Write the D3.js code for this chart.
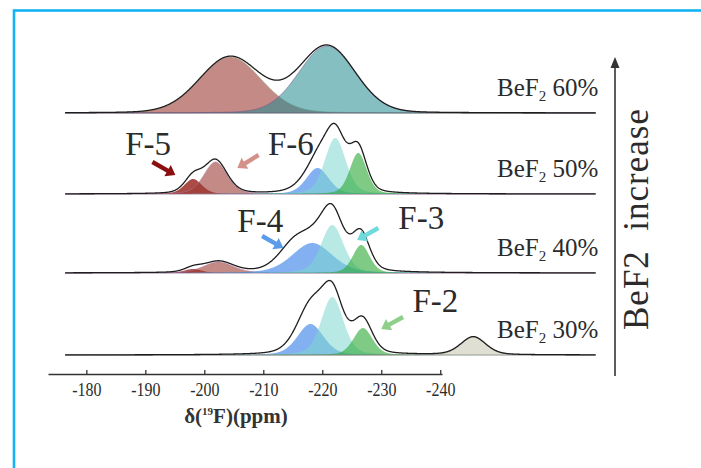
<!DOCTYPE html>
<html>
<head>
<meta charset="utf-8">
<script src="https://cdn.jsdelivr.net/npm/d3@7"></script>
<style>
  body { margin: 0; background: #fff; }
  svg { display: block; font-family: 'Liberation Serif', 'Times New Roman', serif; }
</style>
</head>
<body>
<div id="graf"></div>
<script>
// I. Datos
const ticksPpm = [-180, -190, -200, -210, -220, -230, -240]
const muestras = ['60%', '50%', '40%', '30%']

// componentes de ajuste: [tipo, centro ppm, altura (u.a.), fwhm ppm]
const picos60 = [
  ['rojo', -204.4, 56, 12.3],
  ['verdeazul', -220.8, 67, 11.3]
]
const picos50 = [
  ['F-5', -198.1, 15, 3.5],
  ['F-6', -201.9, 32, 4.6],
  ['F-4', -219.2, 26, 4.5],
  ['F-3', -222.2, 56, 4.2],
  ['F-2', -226.1, 41, 3.4]
]
const picos40 = [
  ['F-5', -198.1, 4, 3.5],
  ['F-6', -202.4, 11, 6.0],
  ['F-4', -218.3, 30, 8.0],
  ['F-3', -221.7, 48, 4.5],
  ['F-2', -226.6, 28, 3.4]
]
const picos30 = [
  ['F-4', -218.0, 31, 5.2],
  ['F-3', -221.7, 58, 4.4],
  ['F-2', -226.9, 27, 3.8],
  ['F-1', -245.6, 18, 5.0]
]
// señal medida que no cubren los componentes: [centro ppm, altura, fwhm ppm]
const resto60 = []
const resto50 = [[-217.0, 5, 5]]
const resto40 = [[-214.9, 15, 6], [-226.3, 9, 4]]
const resto30 = [[-217.8, 15, 6], [-226.5, 7, 4]]
const ganancia = [1.0, 1.04, 1.0, 1.0]
const eta = [0.1, 0.3, 0.3, 0.3]

// anotaciones: [texto, muestra, ppm, intensidad]  y flechas [texto, muestra, ppm1, int1, ppm2, int2]
const etiquetasF = [
  ['F-5', 1, -186.6, 39], ['F-6', 1, -210.8, 39],
  ['F-4', 2, -205.6, 41], ['F-3', 2, -232.9, 44],
  ['F-2', 3, -235.3, 43]
]
const flechasF = [
  ['F-5', 1, -191.2, 32, -195.1, 19],
  ['F-6', 1, -209.2, 39, -205.6, 26],
  ['F-4', 2, -209.8, 37, -213.4, 25],
  ['F-3', 2, -229.5, 45, -225.9, 33],
  ['F-2', 3, -233.7, 38, -230.0, 26]
]

// II. Configuración
const ancho_total = 701, alto_total = 468
const bases = [113, 194, 273, 355]
const estilos = {
  'rojo':      { fill: '#9d3c34', op: 0.6,  stroke: '#8fae7a' },
  'verdeazul': { fill: '#238a90', op: 0.55, stroke: '#7a4f8c' },
  'F-5':       { fill: '#8d0f08', op: 0.75, stroke: 'none' },
  'F-6':       { fill: '#9d3c34', op: 0.6,  stroke: '#b27aa8' },
  'F-4':       { fill: '#2f7be6', op: 0.6,  stroke: 'none' },
  'F-3':       { fill: '#7dd7cf', op: 0.55, stroke: 'none' },
  'F-2':       { fill: '#2aa835', op: 0.6,  stroke: 'none' },
  'F-1':       { fill: '#c9c9b6', op: 0.6,  stroke: '#8a8a80' }
}
const colorFlecha = { 'F-5': '#8b0f0f', 'F-6': '#d4918a', 'F-4': '#5a9bea', 'F-3': '#6fd9dc', 'F-2': '#8ed08a' }

const svg = d3.select('#graf').append('svg')
  .attr('width', ancho_total)
  .attr('height', alto_total)

// marco azul
svg.append('rect')
  .attr('x', 14).attr('y', 10.5)
  .attr('width', 900).attr('height', 700)
  .attr('fill', 'none')
  .attr('stroke', '#14b2f2')
  .attr('stroke-width', 2.6)

const x = d3.scaleLinear()
  .domain([-173.5, -240.3])
  .range([48, 442])

// pseudo-Voigt
function voigt(p, c, h, f, e) {
  const d = (p - c) / f
  return h * ((1 - e) * Math.exp(-4 * Math.LN2 * d * d) + e / (1 + 4 * d * d))
}

const ppms = d3.range(-176.4, -266.35, -0.05)
const todos = [picos60, picos50, picos40, picos30]
const restos = [resto60, resto50, resto40, resto30]

// III. Espectros
todos.forEach((picos, i) => {
  const y = d3.scaleLinear().domain([0, 100]).range([bases[i], bases[i] - 100])
  const g = svg.append('g')

  g.append('path')
    .attr('d', d3.line().x(p => x(p)).y(() => y(0))([ppms[0], ppms[ppms.length - 1]]))
    .attr('stroke', '#b9c6c6')
    .attr('stroke-width', 1.2)

  const area = d3.area()
    .x(d => x(d[0]))
    .y0(y(0))
    .y1(d => y(d[1]))

  picos.forEach(pk => {
    const est = estilos[pk[0]]
    const datos = ppms.map(p => [p, voigt(p, pk[1], pk[2], pk[3], eta[i])])
    g.append('path')
      .attr('d', area(datos))
      .attr('fill', est.fill)
      .attr('fill-opacity', est.op)
      .attr('stroke', est.stroke)
      .attr('stroke-width', 0.8)
      .attr('stroke-opacity', 0.7)
  })

  // envolvente medida
  const env = ppms.map(p => {
    let s = 0
    picos.forEach(pk => { s += voigt(p, pk[1], pk[2], pk[3], eta[i]) })
    s *= ganancia[i]
    restos[i].forEach(r => { s += voigt(p, r[0], r[1], r[2], eta[i]) })
    return [p, s]
  })
  g.append('path')
    .attr('d', d3.line().x(d => x(d[0])).y(d => y(d[1]))(env))
    .attr('fill', 'none')
    .attr('stroke', '#1e1e1e')
    .attr('stroke-width', 1.3)

  // etiqueta BeF2 xx%
  const t = g.append('text')
    .attr('x', 497)
    .attr('y', bases[i] - 17)
    .attr('font-size', 25)
    .attr('fill', '#2b2b2b')
  t.append('tspan').text('BeF')
  t.append('tspan').attr('font-size', 15).attr('dy', 5).text('2')
  t.append('tspan').attr('dy', -5).text('\u00a0' + muestras[i])
})

// IV. Anotaciones F-n
const yMuestra = i => d3.scaleLinear().domain([0, 100]).range([bases[i], bases[i] - 100])

function flecha(x1, y1, x2, y2) {
  const dx = x2 - x1, dy = y2 - y1, L = Math.hypot(dx, dy)
  const ux = dx / L, uy = dy / L, nx = -uy, ny = ux
  const hl = 9, sw = 2.2, hw = 6.5
  const bx = x2 - ux * hl, by = y2 - uy * hl
  return [
    [x1 + nx * sw, y1 + ny * sw], [bx + nx * sw, by + ny * sw], [bx + nx * hw, by + ny * hw],
    [x2, y2],
    [bx - nx * hw, by - ny * hw], [bx - nx * sw, by - ny * sw], [x1 - nx * sw, y1 - ny * sw]
  ]
}

svg.selectAll('.flechaF')
  .data(flechasF)
  .enter().append('polygon')
  .attr('class', 'flechaF')
  .attr('points', d => {
    const y = yMuestra(d[1])
    return flecha(x(d[2]), y(d[3]), x(d[4]), y(d[5])).map(p => p.join(',')).join(' ')
  })
  .attr('fill', d => colorFlecha[d[0]])

svg.selectAll('.etiquetaF')
  .data(etiquetasF)
  .enter().append('text')
  .attr('class', 'etiquetaF')
  .attr('x', d => x(d[2]))
  .attr('y', d => yMuestra(d[1])(d[3]))
  .attr('font-size', 33)
  .attr('fill', '#2b2b2b')
  .text(d => d[0])

// V. Eje x
const ejeX = d3.axisBottom(x)
  .tickValues(ticksPpm)
  .tickSize(-4)
  .tickSizeOuter(0)
  .tickPadding(9)
  .tickFormat(d3.format('d'))

const gx = svg.append('g')
  .attr('transform', 'translate(0,374)')
  .call(ejeX)
gx.select('.domain').attr('stroke', '#333').attr('stroke-width', 1.6)
gx.selectAll('.tick line').attr('stroke', '#333').attr('stroke-width', 1.3)
gx.selectAll('.tick text')
  .attr('font-size', 19)
  .attr('font-family', "'Liberation Serif', serif")
  .attr('fill', '#2b2b2b')
  .attr('transform', 'scale(0.84,1)')
  .text(d => '-' + Math.abs(d))

const titulo = svg.append('text')
  .attr('x', 236)
  .attr('y', 423)
  .attr('text-anchor', 'middle')
  .attr('font-size', 21)
  .attr('font-weight', 'bold')
  .attr('fill', '#333')
titulo.append('tspan').text('\u03b4(')
titulo.append('tspan').attr('font-size', 11).attr('dy', -8).text('19')
titulo.append('tspan').attr('dy', 8).text('F)(ppm)')

// flecha vertical "BeF2 increase"
svg.append('line')
  .attr('x1', 615).attr('x2', 615)
  .attr('y1', 376).attr('y2', 66)
  .attr('stroke', '#333')
  .attr('stroke-width', 1.6)
svg.append('polygon')
  .attr('points', '615,57 610.5,68 619.5,68')
  .attr('fill', '#333')

svg.append('text')
  .attr('transform', 'translate(648,219) rotate(-90)')
  .attr('text-anchor', 'middle')
  .attr('font-size', 35)
  .attr('letter-spacing', 1)
  .attr('fill', '#2b2b2b')
  .style('white-space', 'pre')
  .text('BeF2  increase')
</script>
</body>
</html>
